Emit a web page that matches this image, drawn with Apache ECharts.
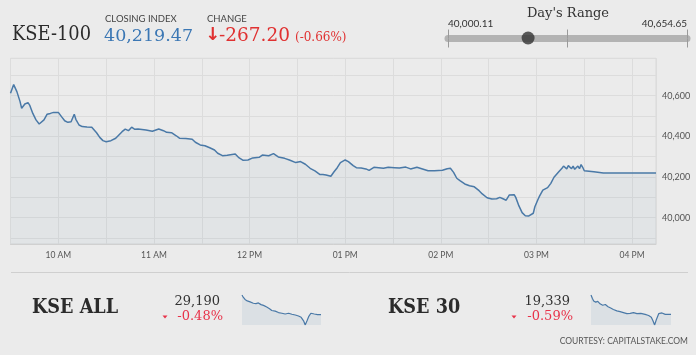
<!DOCTYPE html>
<html><head><meta charset="utf-8">
<script src="https://cdn.jsdelivr.net/npm/echarts@6/dist/echarts.min.js"></script>
<style>html,body{margin:0;padding:0;background:#ebebeb;overflow:hidden}#c{width:696px;height:355px}</style>
</head><body><div id="c"></div>
<script>
// ---- KSE-100 intraday (time, index value) ----
const mainTimes = ["09:30","09:32","09:34","09:36","09:37","09:39","09:41","09:42","09:44","09:46","09:48","09:51","09:53","09:55","09:57","09:58",
"10:00","10:02","10:04","10:06","10:08","10:10","10:11","10:13","10:15","10:18","10:21","10:22","10:24","10:26","10:28","10:30","10:33","10:36","10:38","10:40","10:42","10:44","10:46","10:48","10:50","10:55","10:59",
"11:03","11:06","11:08","11:11","11:14","11:16","11:20","11:24","11:26","11:29","11:32","11:35","11:38","11:40","11:43","11:46","11:48","11:51","11:53","11:56","11:59",
"12:02","12:06","12:08","12:12","12:15","12:18","12:22","12:25","12:29","12:32","12:35","12:38","12:41","12:44","12:46","12:48","12:51","12:53","12:55","12:57",
"13:00","13:02","13:05","13:07","13:10","13:13","13:15","13:18","13:21","13:24","13:27","13:31","13:34","13:38","13:41","13:45","13:48","13:52","13:56",
"14:01","14:04","14:06","14:08","14:10","14:12","14:15","14:18","14:21","14:24","14:26","14:29","14:32","14:35","14:37","14:39","14:41","14:43","14:46","14:47","14:49","14:51","14:53","14:55","14:56","14:58","14:59",
"15:01","15:02","15:04","15:07","15:08","15:09","15:11","15:14","15:16","15:17","15:19","15:20","15:22","15:23","15:24","15:26","15:27","15:28","15:29","15:30","15:36","15:42","15:51","16:15"];
const mainValues = [40612,40654.65,40620,40571,40538,40559,40566,40554,40513,40481,40461,40481,40509,40513,40518,40525,
40518,40497,40477,40469,40472,40509,40484,40456,40448,40446,40445,40436,40418,40395,40379,40374,40379,40391,40407,40423,40436,40428,40445,40435,40436,40431,40425,
40436,40428,40420,40418,40403,40391,40389,40386,40371,40358,40354,40344,40333,40317,40305,40307,40310,40313,40297,40282,40284,
40294,40297,40308,40305,40315,40299,40292,40284,40271,40276,40263,40243,40230,40213,40213,40210,40204,40226,40246,40271,
40284,40276,40256,40246,40244,40240,40233,40248,40246,40243,40248,40246,40244,40249,40240,40248,40241,40231,40231,
40233,40241,40243,40223,40194,40182,40166,40157,40152,40133,40117,40098,40092,40093,40100,40093,40086,40112,40113,40100,40058,40025,40010,40008,40000.11,40022,40054,
40091,40107,40136,40148,40143,40169,40199,40226,40243,40254,40240,40256,40241,40254,40238,40254,40241,40261,40248,40231,40226,40220,40220,40219.47];

const yGridValues = [39900,40000,40100,40200,40300,40400,40500,40600,40700];
const yLabelValues = [40000,40200,40400,40600];
const hourLabels = {600:"10 AM",660:"11 AM",720:"12 PM",780:"01 PM",840:"02 PM",900:"03 PM",960:"04 PM"};

// ---- header figures ----
const closingIndex = 40219.47;
const changeValue = "-267.20";
const changePct = "(-0.66%)";
const rangeLow = 40000.11;
const rangeHigh = 40654.65;

// ---- sparklines ----
const allTimes = ["09:30","09:37","09:45","09:56","10:10","10:26","10:39","10:51","11:04","11:16","11:32","11:46","11:57","12:14","12:30","12:47","13:03","13:20","13:36","13:53","14:09","14:22","14:34","14:42","14:51","14:59","15:10","15:27","15:43","16:00"];
const allValues = [29400,29374,29352,29337,29326,29312,29308,29315,29297,29289,29271,29253,29234,29227,29212,29205,29197,29205,29194,29186,29175,29161,29124,29079,29124,29168,29205,29197,29190,29190];
const k30Times = ["09:30","09:37","09:43","09:53","10:03","10:14","10:27","10:40","10:53","11:06","11:19","11:36","11:52","12:08","12:25","12:41","12:57","13:14","13:33","13:54","14:11","14:24","14:32","14:40","14:48","15:00","15:16","15:32","16:00"];
const k30Values = [19500,19471,19450,19441,19447,19427,19415,19421,19403,19392,19380,19368,19362,19354,19345,19348,19354,19345,19348,19339,19330,19316,19286,19251,19292,19345,19351,19339,19339];

function toMin(s){const p=s.split(":");return +p[0]*60+ +p[1];}
function pairs(t,v){return t.map((s,i)=>[toMin(s),v[i]]);}

const LINE = "#4a79a7";
const SERIF = '"DejaVu Serif", serif';
const SANS = 'Lato, sans-serif';

const chart = echarts.init(document.getElementById('c'), null, {renderer:'canvas'});
const fmt = v => Number(v).toLocaleString('en-US');
const fmt2 = v => Number(v).toLocaleString('en-US',{minimumFractionDigits:2,maximumFractionDigits:2});

chart.setOption({
  animation:false,
  backgroundColor:'#ebebeb',
  grid:[
    {left:10.5, right:40, top:58.3, bottom:111, show:true, borderColor:'#d9d9d9', borderWidth:1, backgroundColor:'transparent'},
    {left:448, right:9, top:37.5, height:1},
    {left:242, top:295, width:79, height:30},
    {left:591, top:295, width:80, height:30}
  ],
  xAxis:[
    {gridIndex:0, type:'value', min:570, max:975, interval:30,
     axisLine:{show:true, lineStyle:{color:'#d0d0d0'}}, axisTick:{show:false},
     splitLine:{show:true, lineStyle:{color:'#dcdcdc', width:1}},
     axisLabel:{color:'#555', fontFamily:SANS, fontSize:8.5, margin:7,
       formatter:v=>hourLabels[Math.round(v)]||''}},
    {gridIndex:1, type:'value', position:'top', min:rangeLow, max:rangeHigh, interval:(rangeHigh-rangeLow)/2,
     axisLine:{show:true, lineStyle:{color:'#b3b3b3', width:7}},
     axisTick:{show:true, inside:true, length:9, lineStyle:{color:'#9a9a9a'}},
     splitLine:{show:false},
     axisLabel:{show:true, margin:9, color:'#333', fontFamily:SANS, fontSize:10, showMinLabel:true, showMaxLabel:true,
       alignMinLabel:'left', alignMaxLabel:'right',
       formatter:v=> (Math.abs(v-rangeLow)<0.01? fmt2(rangeLow) : (Math.abs(v-rangeHigh)<0.01? fmt2(rangeHigh):''))}},
    {gridIndex:1, type:'value', position:'bottom', min:rangeLow, max:rangeHigh, interval:(rangeHigh-rangeLow)/2,
     axisLine:{show:false}, axisTick:{show:true, inside:true, length:9, lineStyle:{color:'#9a9a9a'}},
     splitLine:{show:false}, axisLabel:{show:false}},
    {gridIndex:2, type:'value', min:570, max:960, show:false},
    {gridIndex:3, type:'value', min:570, max:960, show:false}
  ],
  yAxis:[
    {gridIndex:0, type:'value', position:'right', min:39870.7, max:40784, 
     axisLine:{show:false},
     axisTick:{show:false, customValues:yGridValues},
     splitLine:{show:true, lineStyle:{color:'#dcdcdc', width:1}},
     axisLabel:{customValues:yLabelValues, color:'#555', fontFamily:SANS, fontSize:9, margin:6, formatter:v=>fmt(v)}},
    {gridIndex:1, type:'value', min:0, max:1, show:false},
    {gridIndex:2, type:'value', min:'dataMin', max:'dataMax', show:false},
    {gridIndex:3, type:'value', min:'dataMin', max:'dataMax', show:false}
  ],
  series:[
    {type:'line', xAxisIndex:0, yAxisIndex:0, data:pairs(mainTimes,mainValues), showSymbol:false, symbol:'none',
     lineStyle:{color:LINE, width:1.5}, areaStyle:{color:'rgba(74,121,167,0.09)'}},
    {type:'scatter', xAxisIndex:1, yAxisIndex:1, data:[[closingIndex,0.5]], symbolSize:13, itemStyle:{color:'#333'}},
    {type:'line', xAxisIndex:3, yAxisIndex:2, data:pairs(allTimes,allValues), showSymbol:false, symbol:'none',
     lineStyle:{color:LINE, width:1.2}, areaStyle:{color:'rgba(74,121,167,0.14)'}},
    {type:'line', xAxisIndex:4, yAxisIndex:3, data:pairs(k30Times,k30Values), showSymbol:false, symbol:'none',
     lineStyle:{color:LINE, width:1.2}, areaStyle:{color:'rgba(74,121,167,0.14)'}}
  ],
  graphic:[
    {type:'text', x:12, y:35, scaleX:0.85, style:{text:'KSE-100', font:'21px '+SERIF, fill:'#2b2b2b', verticalAlign:'middle'}},
    {type:'text', x:105, y:18.5, style:{text:'CLOSING INDEX', font:'9.5px '+SANS, fill:'#444', verticalAlign:'middle'}},
    {type:'text', x:104, y:36, style:{text:fmt2(closingIndex), font:'17.5px '+SERIF, fill:'#3b77b4', verticalAlign:'middle'}},
    {type:'text', x:207, y:18.5, style:{text:'CHANGE', font:'9.5px '+SANS, fill:'#444', verticalAlign:'middle'}},
    {type:'text', x:205, y:35.5, style:{text:'\u2193', font:'bold 18px "DejaVu Sans"', fill:'#e03131', verticalAlign:'middle'}},
    {type:'text', x:219, y:36, style:{text:changeValue, font:'18.5px '+SERIF, fill:'#e03131', verticalAlign:'middle'}},
    {type:'text', x:295, y:37.5, style:{text:changePct, font:'12px '+SERIF, fill:'#e03131', verticalAlign:'middle'}},
    {type:'text', x:568, y:14, style:{text:"Day's Range", font:'13px '+SERIF, fill:'#333', align:'center', verticalAlign:'middle'}},
    {type:'line', shape:{x1:11, y1:272.5, x2:688, y2:272.5}, style:{stroke:'#cfcfcf', lineWidth:1}},
    {type:'text', x:32, y:308, scaleX:0.84, style:{text:'KSE ALL', font:'bold 21px '+SERIF, fill:'#2b2b2b', verticalAlign:'middle'}},
    {type:'text', x:220, y:301.5, style:{text:'29,190', font:'13px '+SERIF, fill:'#333', align:'right', verticalAlign:'middle'}},
    {type:'text', x:223, y:316.5, style:{text:'-0.48%', font:'13px '+SERIF, fill:'#e8334a', align:'right', verticalAlign:'middle'}},
    {type:'polygon', shape:{points:[[162.5,315.5],[167.5,315.5],[165,318.5]]}, style:{fill:'#e8334a'}},
    {type:'text', x:388, y:308, scaleX:0.84, style:{text:'KSE 30', font:'bold 21px '+SERIF, fill:'#2b2b2b', verticalAlign:'middle'}},
    {type:'text', x:570, y:301.5, style:{text:'19,339', font:'13px '+SERIF, fill:'#333', align:'right', verticalAlign:'middle'}},
    {type:'text', x:573, y:316.5, style:{text:'-0.59%', font:'13px '+SERIF, fill:'#e8334a', align:'right', verticalAlign:'middle'}},
    {type:'polygon', shape:{points:[[511.5,315.5],[516.5,315.5],[514,318.5]]}, style:{fill:'#e8334a'}},
    {type:'text', x:688, y:341.5, style:{text:'COURTESY: CAPITALSTAKE.COM', font:'8.5px '+SANS, fill:'#555', align:'right', verticalAlign:'middle'}}
  ]
});
</script></body></html>
